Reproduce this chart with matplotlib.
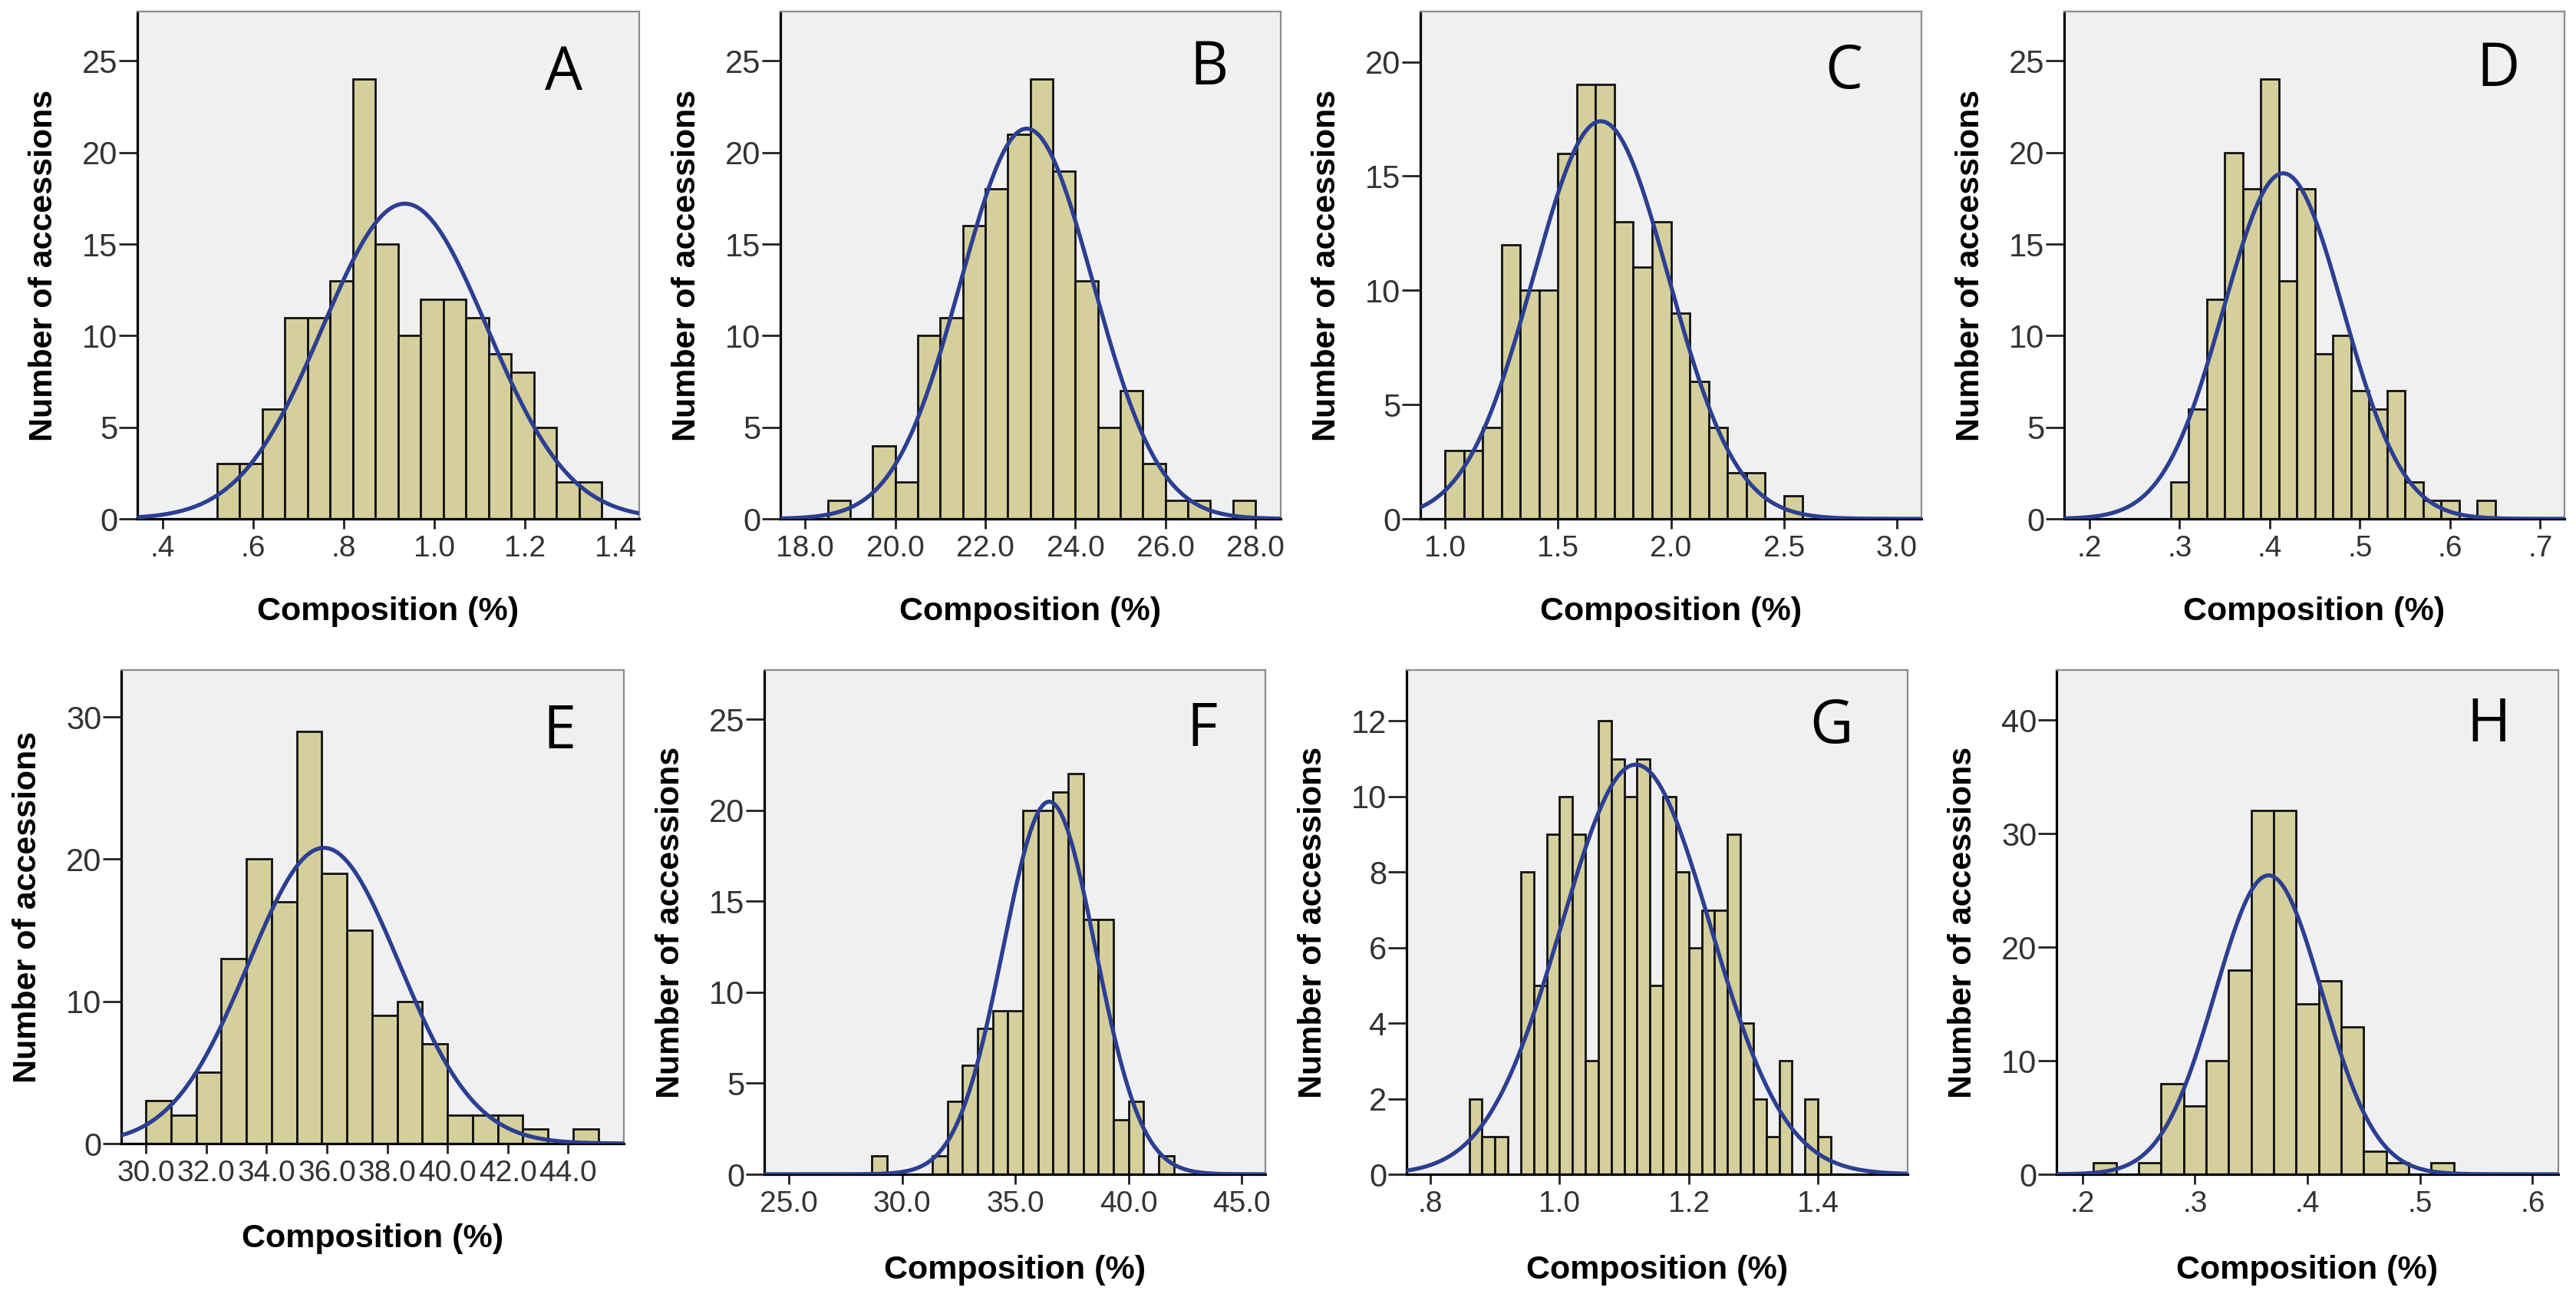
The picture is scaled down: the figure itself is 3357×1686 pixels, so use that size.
import numpy as np
import matplotlib
matplotlib.use("Agg")
import matplotlib.pyplot as plt

# ---------------- data ----------------
panel_letters = ["A", "B", "C", "D", "E", "F", "G", "H"]

# histogram bins: first edge, bin width, counts
a_start, a_width = 0.52, 0.05
a_counts = [3, 3, 6, 11, 11, 13, 24, 15, 10, 12, 12, 11, 9, 8, 5, 2, 2]

b_start, b_width = 18.5, 0.5
b_counts = [1, 0, 4, 2, 10, 11, 16, 18, 21, 24, 19, 13, 5, 7, 3, 1, 1, 0, 1]

c_start, c_width = 1.0, 1.5 / 18
c_counts = [3, 3, 4, 12, 10, 10, 16, 19, 19, 13, 11, 13, 9, 6, 4, 2, 2, 0, 1]

d_start, d_width = 0.29, 0.02
d_counts = [2, 6, 12, 20, 18, 24, 13, 18, 9, 10, 7, 6, 7, 2, 1, 1, 0, 1]

e_start, e_width = 30.0, 15.0 / 18
e_counts = [3, 2, 5, 13, 20, 17, 29, 19, 15, 9, 10, 7, 2, 2, 2, 1, 0, 1]

f_start, f_width = 40.0 - 17 * (2 / 3), 2 / 3
f_counts = [1, 0, 0, 0, 1, 4, 6, 8, 9, 9, 20, 20, 21, 22, 14, 14, 3, 4, 0, 1]

g_start, g_width = 0.86, 0.02
g_counts = [2, 1, 1, 0, 8, 5, 9, 10, 9, 3, 12, 11, 10, 11, 5, 10, 8, 6, 7, 7,
            9, 4, 2, 1, 3, 0, 2, 1]

h_start, h_width = 0.21, 0.02
h_counts = [1, 0, 1, 8, 6, 10, 18, 32, 32, 15, 17, 13, 2, 1, 0, 1]

# fitted normal curves (mean, sd)
fit_mean = [0.935, 22.92, 1.69, 0.415, 35.9, 36.5, 1.118, 0.3655]
fit_sd = [0.182, 1.47, 0.300, 0.0664, 2.51, 2.04, 0.1155, 0.0476]

# axis ranges
x_ranges = [(0.344, 1.453), (17.45, 28.56), (0.891, 3.109), (0.172, 0.727),
            (29.18, 45.85), (23.91, 46.05), (0.763, 1.539), (0.177, 0.623)]
y_tops = [27.7, 27.7, 22.2, 27.7, 33.3, 27.7, 13.35, 44.4]

# tick values / labels
x_ticks = [[0.4, 0.6, 0.8, 1.0, 1.2, 1.4],
           [18, 20, 22, 24, 26, 28],
           [1.0, 1.5, 2.0, 2.5, 3.0],
           [0.2, 0.3, 0.4, 0.5, 0.6, 0.7],
           [30, 32, 34, 36, 38, 40, 42, 44],
           [25, 30, 35, 40, 45],
           [0.8, 1.0, 1.2, 1.4],
           [0.2, 0.3, 0.4, 0.5, 0.6]]
x_ticklabels = [[".4", ".6", ".8", "1.0", "1.2", "1.4"],
                ["18.0", "20.0", "22.0", "24.0", "26.0", "28.0"],
                ["1.0", "1.5", "2.0", "2.5", "3.0"],
                [".2", ".3", ".4", ".5", ".6", ".7"],
                ["30.0", "32.0", "34.0", "36.0", "38.0", "40.0", "42.0", "44.0"],
                ["25.0", "30.0", "35.0", "40.0", "45.0"],
                [".8", "1.0", "1.2", "1.4"],
                [".2", ".3", ".4", ".5", ".6"]]
y_ticks = [[0, 5, 10, 15, 20, 25],
           [0, 5, 10, 15, 20, 25],
           [0, 5, 10, 15, 20],
           [0, 5, 10, 15, 20, 25],
           [0, 10, 20, 30],
           [0, 5, 10, 15, 20, 25],
           [0, 2, 4, 6, 8, 10, 12],
           [0, 10, 20, 30, 40]]

starts = [a_start, b_start, c_start, d_start, e_start, f_start, g_start, h_start]
widths = [a_width, b_width, c_width, d_width, e_width, f_width, g_width, h_width]
counts = [a_counts, b_counts, c_counts, d_counts, e_counts, f_counts, g_counts, h_counts]

x_label = "Composition (%)"
y_label = "Number of accessions"

# ---------------- layout / style ----------------
W, H = 3357, 1686
DPI = 100
# axes boxes in pixels: left, top, right, bottom
boxes = [(179, 15, 833, 676), (1017, 15, 1669, 676), (1851, 15, 2504, 676),
         (2690, 15, 3342, 676),
         (158, 873, 813, 1490), (996, 873, 1649, 1530), (1833, 873, 2486, 1530),
         (2680, 873, 3334, 1530)]
xlabel_off = [121, 121, 121, 121, 124, 125, 125, 125]
letter_pos = [(0.850, 0.876), (0.857, 0.888), (0.845, 0.879), (0.868, 0.884),
              (0.872, 0.868), (0.874, 0.881), (0.848, 0.886), (0.861, 0.889)]

bg = "#F0F0F0"
bar_fill = "#D5CF9B"
curve_col = "#2B3F92"
tick_col = "#333333"

plt.rcParams["font.family"] = ["Liberation Sans", "DejaVu Sans"]

fig = plt.figure(figsize=(W / DPI, H / DPI), dpi=DPI)
fig.patch.set_facecolor("white")

for i in range(8):
    l, t, r, b = boxes[i]
    ax = fig.add_axes([l / W, 1 - b / H, (r - l) / W, (b - t) / H])
    ax.set_facecolor(bg)

    c = np.array(counts[i], dtype=float)
    edges = starts[i] + widths[i] * np.arange(len(c) + 1)
    ax.bar(edges[:-1], c, width=widths[i], align="edge", color=bar_fill,
           edgecolor="#111111", linewidth=2.0, zorder=2)

    n = c.sum()
    xs = np.linspace(x_ranges[i][0], x_ranges[i][1], 600)
    mu, sd = fit_mean[i], fit_sd[i]
    ys = n * widths[i] * np.exp(-0.5 * ((xs - mu) / sd) ** 2) / (sd * np.sqrt(2 * np.pi))
    ax.plot(xs, ys, color=curve_col, linewidth=3.8, zorder=3, solid_capstyle="round")

    ax.set_xlim(*x_ranges[i])
    ax.set_ylim(0, y_tops[i])
    ax.set_xticks(x_ticks[i])
    ax.set_xticklabels(x_ticklabels[i])
    ax.set_yticks(y_ticks[i])
    ax.set_yticklabels([str(v) for v in y_ticks[i]])

    ax.tick_params(axis="y", direction="out", length=17, width=2.0,
                   color="#222222", labelsize=30, labelcolor=tick_col, pad=1.5)
    ax.tick_params(axis="x", direction="out", length=9, width=2.0,
                   color="#222222", labelsize=28, labelcolor=tick_col, pad=6)

    for s in ("left", "bottom"):
        ax.spines[s].set_color("black")
        ax.spines[s].set_linewidth(2.3)
    for s in ("top", "right"):
        ax.spines[s].set_color("#8C8C8C")
        ax.spines[s].set_linewidth(1.6)

    h_px = b - t
    w_px = r - l
    ax.set_xlabel(x_label, fontsize=31, fontweight="bold")
    ax.xaxis.set_label_coords(0.5, -xlabel_off[i] / h_px)
    ax.xaxis.label.set_va("center")
    ax.set_ylabel(y_label, fontsize=31, fontweight="bold")
    ax.yaxis.set_label_coords(-122 / w_px, 0.5)
    ax.yaxis.label.set_va("center")

    ax.text(letter_pos[i][0], letter_pos[i][1], panel_letters[i],
            transform=ax.transAxes, ha="center", va="center",
            fontsize=56, family=["Open Sans", "DejaVu Sans"], color="black")

fig.savefig("out.png", dpi=DPI, facecolor="white")
